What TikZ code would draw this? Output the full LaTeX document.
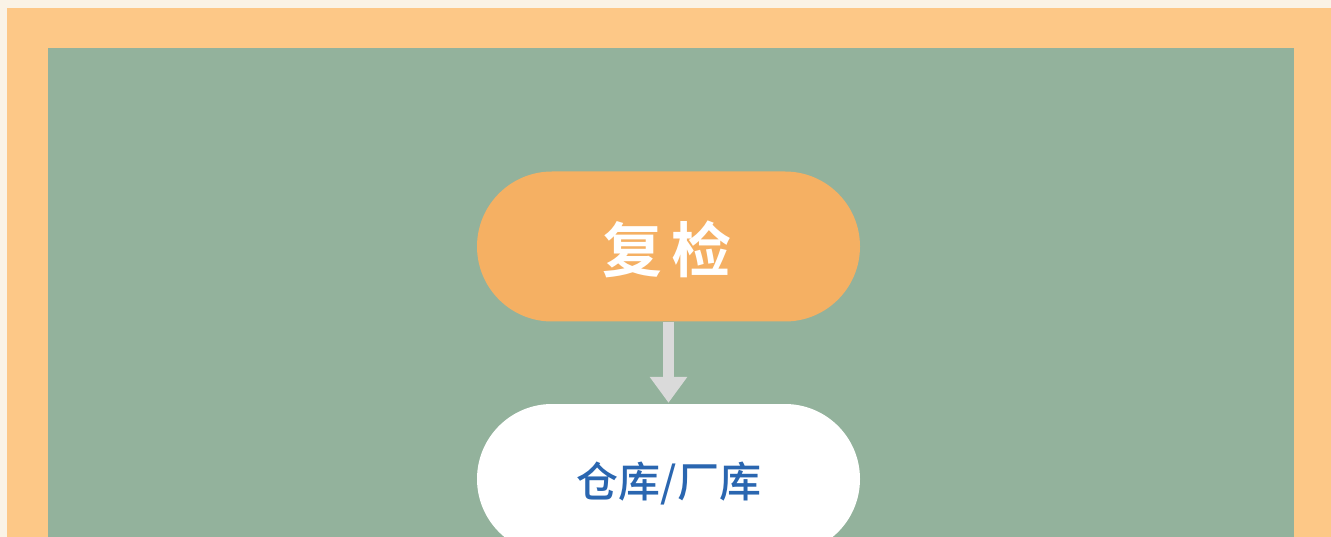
\documentclass[tikz,border=0pt]{standalone}
\usepackage{fontspec}
\newfontfamily\cjk{Noto Sans CJK SC Bold}
\newfontfamily\cjkmed{Noto Sans CJK SC Medium}
\definecolor{cream}{HTML}{FAF3E6}
\definecolor{frameorange}{HTML}{FDC887}
\definecolor{panelgreen}{HTML}{93B29C}
\definecolor{pillorange}{HTML}{F5B063}
\definecolor{arrowgray}{HTML}{DADADA}
\definecolor{textblue}{HTML}{2A66B0}
\tikzset{
  pill/.style={rounded rectangle, minimum width=383pt, minimum height=150pt, inner sep=0pt},
  flowarrow/.style={draw=arrowgray, line width=11pt, -{Triangle[width=36pt,length=26pt]}, shorten >=1pt}
}
\usetikzlibrary{shapes.misc,arrows.meta}
\begin{document}
\begin{tikzpicture}[x=1pt,y=-1pt]
\useasboundingbox (0,0) rectangle (1331,537);
\clip (0,0) rectangle (1331,537);
\fill[cream] (0,0) rectangle (1331,537);
\fill[frameorange] (7,8) rectangle (1331,537);
\fill[panelgreen] (48,48) rectangle (1294,537);
\node[pill, fill=pillorange] (recheck) at (668.5,246.5) {};
\node[font=\cjk\fontsize{60pt}{60pt}\selectfont, text=white] (recheckl) at (667,249) {复\hspace{10pt}检};
\node[pill, fill=white] (store) at (668.5,479) {};
\node[font=\cjkmed\fontsize{42pt}{42pt}\selectfont, text=textblue] (storel) at (669,483) {仓库/厂库};
\draw[flowarrow] (recheck.south) -- (store.north);
\end{tikzpicture}
\end{document}
